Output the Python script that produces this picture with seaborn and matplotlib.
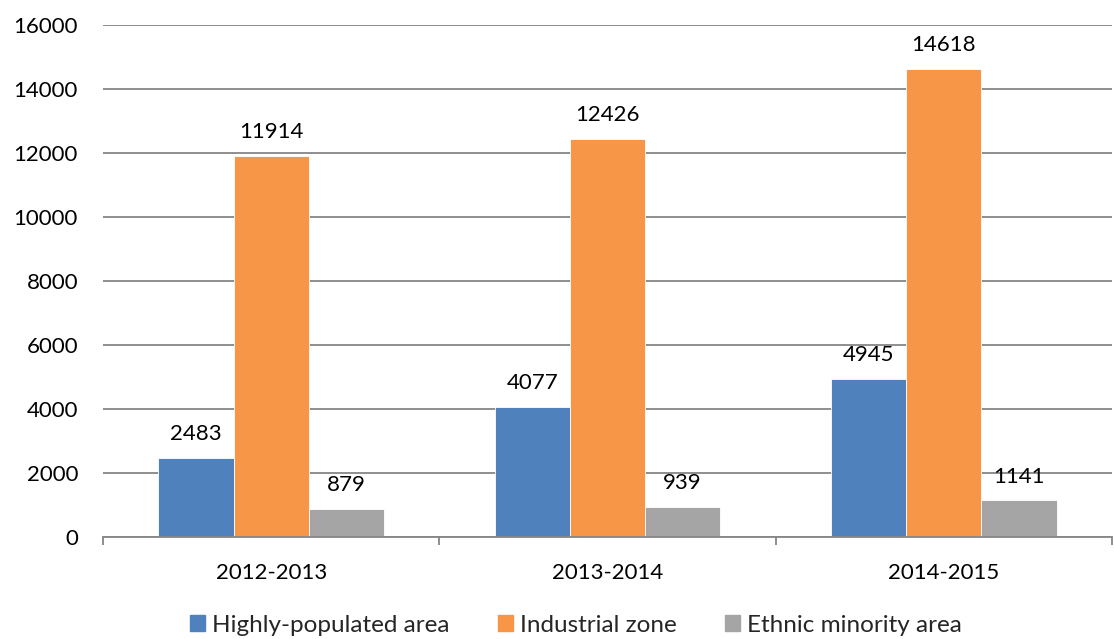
import pandas as pd
import matplotlib
matplotlib.use("Agg")
import matplotlib.pyplot as plt
import seaborn as sns

# data
periods = ['2012-2013', '2013-2014', '2014-2015']
highly_populated = [2483, 4077, 4945]
industrial_zone = [11914, 12426, 14618]
ethnic_minority = [879, 939, 1141]
series_names = ['Highly-populated area', 'Industrial zone', 'Ethnic minority area']
colors = ['#4F81BD', '#F79646', '#A5A5A5']

df = pd.DataFrame({
    'Period': periods * 3,
    'Area': [series_names[0]] * 3 + [series_names[1]] * 3 + [series_names[2]] * 3,
    'Value': highly_populated + industrial_zone + ethnic_minority,
})

sns.set_style('white')
plt.rcParams['font.family'] = ['Lato', 'DejaVu Sans']

fig = plt.figure(figsize=(11.14, 6.39), dpi=100)
ax = fig.add_axes([103 / 1114, 102 / 639, 1009 / 1114, 512 / 639])

sns.barplot(
    data=df, x='Period', y='Value', hue='Area',
    palette=colors, saturation=1, width=0.67, gap=0,
    edgecolor='white', linewidth=0.6,
    legend=False, ax=ax,
)

for container in ax.containers:
    ax.bar_label(container, fmt='%d', padding=10, fontsize=16, color='black')

ax.set_ylim(0, 16000)
ax.set_xlim(-0.5, 2.5)
ax.set_yticks(range(0, 16001, 2000))
ax.yaxis.grid(True, color='#868686', linewidth=1.3)
ax.set_axisbelow(True)
ax.set_xlabel('')
ax.set_ylabel('')

for side in ['left', 'right', 'top']:
    ax.spines[side].set_visible(False)
ax.spines['bottom'].set_color('#868686')
ax.spines['bottom'].set_linewidth(1.3)

ax.tick_params(axis='y', length=0, pad=18, labelsize=16, labelcolor='black')
ax.tick_params(axis='x', which='major', length=0, pad=19, labelsize=16, labelcolor='black')
ax.set_xticks([-0.5, 0.5, 1.5, 2.5], minor=True)
ax.tick_params(axis='x', which='minor', length=6, width=1.3, color='#868686', bottom=True)

handles = [plt.Rectangle((0, 0), 1, 1, color=c) for c in colors]
fig.legend(
    handles, series_names, loc='center', bbox_to_anchor=(0.517, 14 / 639),
    ncol=3, frameon=False, fontsize=17.5, handlelength=0.6, handleheight=0.6,
    handletextpad=0.3, columnspacing=2.0,
)

fig.savefig('out.png', dpi=100)
